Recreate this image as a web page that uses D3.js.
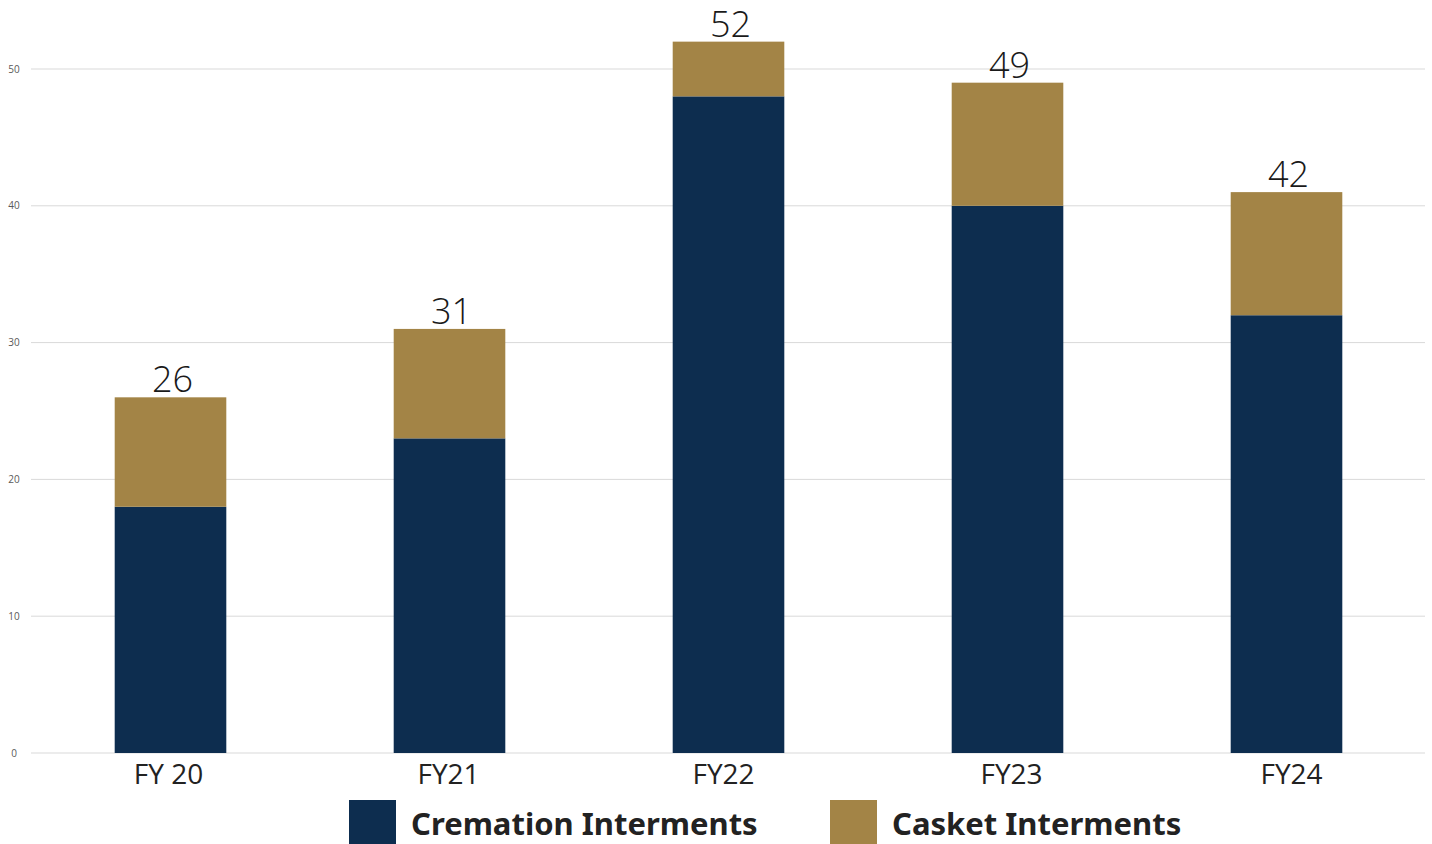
<!DOCTYPE html>
<html>
<head>
<meta charset="utf-8">
<script src="https://cdn.jsdelivr.net/npm/d3@7"></script>
<style>
  body { margin: 0; background: #fff; }
  svg { display: block; }
</style>
</head>
<body>
<div id="chart"></div>
<script>
/**
 * Stacked bars : Interments by fiscal year
 */
var years = [ 'FY 20', 'FY21', 'FY22', 'FY23', 'FY24' ];
var cremation = [ 18, 23, 48, 40, 32 ];
var casket = [ 8, 8, 4, 9, 9 ];
var totalLabels = [ '26', '31', '52', '49', '42' ];
var yTicks = [ 0, 10, 20, 30, 40, 50 ];
var seriesNames = [ 'Cremation Interments', 'Casket Interments' ];
var seriesColors = [ '#0d2d4f', '#a38446' ];

var W = 1432, H = 844;

var svg = d3.select( '#chart' ).append( 'svg' )
  .attr( 'width', W )
  .attr( 'height', H );

var x = d3.scaleBand()
  .domain( years )
  .range([ 31, 1426 ])
  .paddingInner( 0.6 )
  .paddingOuter( 0.3 );

var y = d3.scaleLinear()
  .domain([ 0, 50 ])
  .range([ 753, 69 ]);

// grid
svg.append( 'g' )
  .selectAll( 'line' ).data( yTicks )
  .enter().append( 'line' )
    .attr( 'x1', 31 )
    .attr( 'x2', 1425 )
    .attr( 'y1', function(d) { return y(d); })
    .attr( 'y2', function(d) { return y(d); })
    .style( 'stroke', '#d9d9d9' )
    .style( 'stroke-width', 1 );

svg.append( 'g' )
  .selectAll( 'text' ).data( yTicks )
  .enter().append( 'text' )
    .attr( 'x', 14 )
    .attr( 'y', function(d) { return y(d); })
    .attr( 'dy', '0.35em' )
    .attr( 'text-anchor', 'middle' )
    .style( 'font-family', 'Open Sans, sans-serif' )
    .style( 'font-size', '10px' )
    .style( 'fill', '#595959' )
    .text( String );

// stacked data
var rows = years.map(function(yr, i) {
  return { year: yr, cremation: cremation[i], casket: casket[i] };
});
var stack = d3.stack().keys([ 'cremation', 'casket' ])( rows );

svg.append( 'g' )
  .selectAll( 'g' ).data( stack )
  .enter().append( 'g' )
    .style( 'fill', function(d, i) { return seriesColors[i]; })
  .selectAll( 'rect' ).data(function(d) { return d; })
  .enter().append( 'rect' )
    .attr( 'x', function(d) { return x(d.data.year); })
    .attr( 'width', x.bandwidth() )
    .attr( 'y', function(d) { return y(d[1]); })
    .attr( 'height', function(d) { return y(d[0]) - y(d[1]); });

// totals above bars
svg.append( 'g' )
  .selectAll( 'text' ).data( rows )
  .enter().append( 'text' )
    .attr( 'x', function(d) { return x(d.year) + x.bandwidth() / 2 + 2; })
    .attr( 'y', function(d) { return y(d.cremation + d.casket) - 5; })
    .attr( 'text-anchor', 'middle' )
    .style( 'font-family', 'Open Sans, sans-serif' )
    .style( 'font-weight', 300 )
    .style( 'font-size', '36px' )
    .style( 'fill', '#1a1a1a' )
    .text(function(d, i) { return totalLabels[i]; });

// x labels (small offsets as in the original layout)
var labelShift = [ -2, -1, -5, 4, 5 ];
svg.append( 'g' )
  .selectAll( 'text' ).data( years )
  .enter().append( 'text' )
    .attr( 'x', function(d, i) { return x(d) + x.bandwidth() / 2 + labelShift[i]; })
    .attr( 'y', 784 )
    .attr( 'text-anchor', 'middle' )
    .style( 'font-family', 'Open Sans, sans-serif' )
    .style( 'font-size', '28px' )
    .style( 'fill', '#222' )
    .text( String );

// legend
var legendX = [ 349, 830 ];
var legend = svg.selectAll( '.legend' ).data( seriesNames )
  .enter().append( 'g' )
    .attr( 'class', 'legend' )
    .attr( 'transform', function(d, i) { return 'translate(' + legendX[i] + ',800)'; });

legend.append( 'rect' )
  .attr( 'width', 47 )
  .attr( 'height', 44 )
  .style( 'fill', function(d, i) { return seriesColors[i]; });

legend.append( 'text' )
  .attr( 'x', 62 )
  .attr( 'y', 35 )
  .style( 'font-family', 'Noto Sans, sans-serif' )
  .style( 'font-weight', 700 )
  .style( 'font-size', '31px' )
  .style( 'fill', '#222' )
  .text( String );
</script>
</body>
</html>
